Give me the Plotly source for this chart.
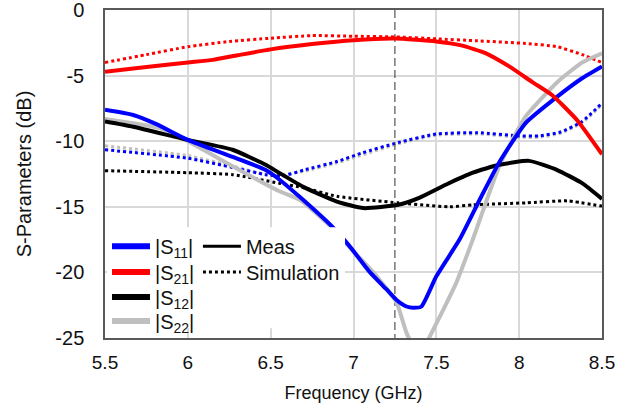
import plotly.graph_objects as go

# ---------------- data ----------------
s11_meas_f = [5.5, 5.67, 5.81, 6.0, 6.27, 6.47, 6.55, 6.68, 6.87, 6.97, 7.1, 7.2, 7.26, 7.32, 7.36, 7.41, 7.5, 7.64, 7.76, 7.88, 8.04, 8.23, 8.38, 8.5]
s11_meas_db = [-7.6, -8.0, -8.7, -9.9, -11.2, -12.2, -12.9, -14.3, -16.5, -17.9, -20.0, -21.3, -22.1, -22.6, -22.7, -22.6, -20.3, -17.5, -14.5, -11.6, -8.6, -6.6, -5.2, -4.3]

s21_meas_f = [5.5, 5.75, 6.0, 6.15, 6.3, 6.5, 6.75, 7.0, 7.25, 7.5, 7.65, 7.8, 7.94, 8.08, 8.2, 8.35, 8.5]
s21_meas_db = [-4.7, -4.35, -4.0, -3.8, -3.45, -3.0, -2.6, -2.3, -2.18, -2.4, -2.7, -3.3, -4.3, -5.5, -6.5, -8.4, -11.0]

s12_meas_f = [5.5, 5.67, 6.0, 6.27, 6.47, 6.55, 6.7, 6.9, 7.06, 7.27, 7.4, 7.56, 7.72, 7.88, 8.06, 8.23, 8.38, 8.5]
s12_meas_db = [-8.5, -8.9, -9.9, -10.65, -11.8, -12.4, -13.5, -14.6, -15.1, -14.85, -14.3, -13.3, -12.4, -11.8, -11.5, -12.2, -13.2, -14.4]

s22_meas_f = [5.5, 5.83, 6.0, 6.17, 6.37, 6.55, 6.68, 6.87, 6.97, 7.12, 7.26, 7.32, 7.4, 7.46, 7.54, 7.62, 7.72, 7.88, 8.04, 8.23, 8.38, 8.5]
s22_meas_db = [-8.3, -9.0, -10.0, -11.2, -12.6, -13.8, -14.5, -16.6, -18.0, -20.0, -22.3, -24.6, -26.5, -24.9, -22.9, -20.8, -17.5, -11.9, -8.1, -5.5, -4.0, -3.3]

s11_sim_f = [5.5, 6.0, 6.27, 6.47, 6.57, 6.7, 6.9, 7.05, 7.27, 7.5, 7.75, 8.0, 8.12, 8.25, 8.38, 8.5]
s11_sim_db = [-10.65, -11.3, -12.0, -12.55, -12.65, -12.2, -11.55, -10.9, -10.1, -9.45, -9.35, -9.6, -9.6, -9.3, -8.5, -7.1]

s21_sim_f = [5.5, 5.75, 6.0, 6.25, 6.5, 6.75, 7.0, 7.25, 7.5, 7.75, 8.04, 8.23, 8.38, 8.5]
s21_sim_db = [-4.0, -3.4, -2.8, -2.4, -2.15, -1.95, -2.0, -2.05, -2.2, -2.35, -2.55, -2.8, -3.4, -4.0]

s12_sim_f = [5.5, 6.0, 6.27, 6.55, 6.7, 6.9, 7.27, 7.58, 7.72, 8.04, 8.29, 8.5]
s12_sim_db = [-12.25, -12.4, -12.55, -13.2, -13.55, -14.2, -14.7, -15.0, -14.85, -14.7, -14.55, -14.95]

s22_sim_f = [5.5, 6.0, 6.27, 6.5, 6.7, 6.9, 7.27, 7.5, 7.75, 8.0, 8.12, 8.25, 8.38, 8.5]
s22_sim_db = [-10.35, -11.1, -11.9, -12.6, -12.3, -11.65, -10.2, -9.55, -9.45, -9.7, -9.7, -9.4, -8.6, -7.2]

marker_f = 7.25
x_ticks = [5.5, 6, 6.5, 7, 7.5, 8, 8.5]
x_tick_text = ["5.5", "6", "6.5", "7", "7.5", "8", "8.5"]
y_ticks = [0, -5, -10, -15, -20, -25]
y_tick_text = ["0", "-5", "-10", "-15", "-20", "-25"]

BLUE, RED, BLACK, GRAY = "#0000ff", "#ff0000", "#000000", "#bfbfbf"
FONT = "Liberation Sans, Arial, sans-serif"
TXT = "#111111"

fig = go.Figure()

# simulation (dotted)
for f, d, c in [(s22_sim_f, s22_sim_db, GRAY), (s12_sim_f, s12_sim_db, BLACK),
                (s11_sim_f, s11_sim_db, BLUE), (s21_sim_f, s21_sim_db, RED)]:
    fig.add_trace(go.Scatter(x=f, y=d, mode="lines", showlegend=False, hoverinfo="skip",
                             line=dict(color=c, width=3, dash="dot", shape="spline", smoothing=0.5)))

# marker line
fig.add_trace(go.Scatter(x=[marker_f, marker_f], y=[0, -25], mode="lines", showlegend=False,
                         hoverinfo="skip", line=dict(color="#333333", width=1, dash="8px,4px")))

# measurement (solid)
for f, d, c in [(s22_meas_f, s22_meas_db, GRAY), (s12_meas_f, s12_meas_db, BLACK),
                (s11_meas_f, s11_meas_db, BLUE), (s21_meas_f, s21_meas_db, RED)]:
    fig.add_trace(go.Scatter(x=f, y=d, mode="lines", showlegend=False, hoverinfo="skip",
                             line=dict(color=c, width=4, shape="spline", smoothing=0.5)))

# legend entries: one small legend per entry so rows can sit tightly like the reference
legend_entries = [
    ("|S<sub>11</sub>|", dict(color=BLUE, width=6), "legend"),
    ("|S<sub>21</sub>|", dict(color=RED, width=6), "legend2"),
    ("|S<sub>12</sub>|", dict(color=BLACK, width=6), "legend3"),
    ("|S<sub>22</sub>|", dict(color=GRAY, width=6), "legend4"),
    ("Meas", dict(color=BLACK, width=3), "legend5"),
    ("Simulation", dict(color=BLACK, width=3, dash="dot"), "legend6"),
]
for name, ln, lg in legend_entries:
    fig.add_trace(go.Scatter(x=[None], y=[None], mode="lines", name=name, line=ln, legend=lg))

def lg_style(x, y):
    return dict(x=x, y=y, xanchor="left", yanchor="middle", bgcolor="rgba(0,0,0,0)",
                font=dict(family=FONT, size=20, color=TXT), itemwidth=38,
                borderwidth=0)

# white backing panel behind the legend block (as in the reference)
fig.add_shape(type="rect", xref="paper", yref="paper", x0=0.004, x1=0.483, y0=0.03, y1=0.338,
              fillcolor="white", line=dict(width=0), layer="above")

axis_common = dict(showgrid=True, gridcolor="#d9d9d9", gridwidth=1.5, zeroline=False,
                   showline=True, linecolor="#595959", linewidth=1.5, mirror=True,
                   ticks="outside", tickcolor="rgba(0,0,0,0)", automargin=False,
                   ticklabeloverflow="allow")

fig.update_layout(
    width=635, height=411,
    margin=dict(l=105, r=33, t=10, b=73),
    paper_bgcolor="white", plot_bgcolor="white",
    font=dict(family=FONT, size=18, color=TXT),
    xaxis=dict(range=[5.5, 8.5], tickvals=x_ticks, ticktext=x_tick_text, ticklen=6,
               tickfont=dict(family=FONT, size=19, color=TXT),
               title=dict(text="Frequency (GHz)", font=dict(family=FONT, size=18, color=TXT), standoff=15),
               **axis_common),
    yaxis=dict(range=[-25, 0], tickvals=y_ticks, ticktext=y_tick_text, ticklen=15,
               tickfont=dict(family=FONT, size=20, color=TXT),
               title=dict(text="S-Parameters (dB)", font=dict(family=FONT, size=20, color=TXT), standoff=18),
               **axis_common),
    legend=lg_style(0.004, 0.28),
    legend2=lg_style(0.004, 0.201),
    legend3=lg_style(0.004, 0.125),
    legend4=lg_style(0.004, 0.052),
    legend5=lg_style(0.187, 0.28),
    legend6=lg_style(0.187, 0.201),
)

fig.write_html("out.html", post_script="document.body.style.margin='0';",
               config={"displayModeBar": False})
